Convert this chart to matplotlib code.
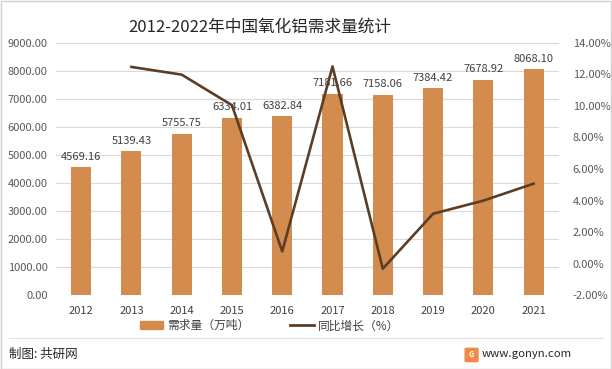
import matplotlib
matplotlib.use("Agg")
import matplotlib.pyplot as plt
from matplotlib.patches import Rectangle, FancyBboxPatch
from matplotlib.lines import Line2D
from matplotlib.ticker import FuncFormatter
import numpy as np

plt.rcParams['font.family'] = ['Noto Sans CJK SC', 'DejaVu Sans']

years = ["2012", "2013", "2014", "2015", "2016", "2017", "2018", "2019", "2020", "2021"]
demand = [4569.16, 5139.43, 5755.75, 6334.01, 6382.84, 7181.66, 7158.06, 7384.42, 7678.92, 8068.10]
growth_years = ["2013", "2014", "2015", "2016", "2017", "2018", "2019", "2020", "2021"]
growth = [12.48, 11.99, 10.05, 0.77, 12.51, -0.33, 3.16, 3.99, 5.07]

BAR_COLOR = "#D48B4E"
LINE_COLOR = "#5C3D26"
GRID_COLOR = "#D9D9D9"
TEXT_COLOR = "#595959"

fig = plt.figure(figsize=(6.12, 3.69), dpi=100)
ax = fig.add_axes([0.0915, 0.2005, 0.8215, 0.683])
ax2 = ax.twinx()

x = np.arange(len(years))
ax.bar(x, demand, width=0.4, color=BAR_COLOR, zorder=2)
for xi, v in zip(x, demand):
    ax.annotate(f"{v:.2f}", (xi, v), xytext=(0, 4), textcoords="offset points",
                ha="center", va="bottom", fontsize=8, color="#404040", zorder=5)

gx = [years.index(y) for y in growth_years]
ax2.plot(gx, growth, color=LINE_COLOR, linewidth=1.9, zorder=3)

ax.set_xlim(-0.5, len(years) - 0.5)
ax.set_ylim(0, 9000)
ax.set_yticks(np.arange(0, 9001, 1000))
ax.yaxis.set_major_formatter(FuncFormatter(lambda v, p: f"{v:.2f}"))
ax2.set_ylim(-2, 14)
ax2.set_yticks(np.arange(-2, 14.1, 2))
ax2.yaxis.set_major_formatter(FuncFormatter(lambda v, p: f"{v:.2f}%"))
ax.set_xticks(x)
ax.set_xticklabels(years)

ax.grid(axis="y", color=GRID_COLOR, linewidth=0.8, zorder=0)
ax.set_axisbelow(True)
for a in (ax, ax2):
    for s in a.spines.values():
        s.set_visible(False)
    a.tick_params(length=0, labelsize=8, colors=TEXT_COLOR)
ax.tick_params(axis="x", pad=8, colors="#404040")
ax.tick_params(axis="y", pad=6)
ax2.tick_params(axis="y", pad=10)
ax.set_zorder(ax2.get_zorder() - 1)
ax.patch.set_visible(False)
ax2.patch.set_visible(False)

fig.text(0.425, 0.926, "2012-2022年中国氧化铝需求量统计", ha="center", va="center",
         fontsize=12, color="#262626")

handles = [Rectangle((0, 0), 1, 1, color=BAR_COLOR),
           Line2D([0], [0], color=LINE_COLOR, linewidth=2.0)]
fig.legend(handles, ["需求量（万吨）", "同比增长（%）"], loc="center",
           bbox_to_anchor=(0.44, 0.117), ncol=2, frameon=False, fontsize=8.5,
           handlelength=2.0, handletextpad=0.3, columnspacing=3.5,
           labelcolor="#404040")

# footer
fig.add_artist(Line2D([0.015, 0.985], [0.084, 0.084], transform=fig.transFigure,
                      color="#E0E0E0", linewidth=0.8))
fig.text(0.014, 0.04, "制图: 共研网", ha="left", va="center", fontsize=9, color="#262626")
fig.text(0.787, 0.04, "www.gonyn.com", ha="left", va="center", fontsize=8.2, color="#262626")
fig.add_artist(FancyBboxPatch((0.762, 0.022), 0.017, 0.032, boxstyle="round,pad=0.002",
                              transform=fig.transFigure, color="#F08A4B"))
fig.text(0.7705, 0.038, "G", ha="center", va="center", fontsize=5.5, color="white",
         fontweight="bold")

# outer frame
fig.add_artist(Rectangle((0.001, 0.001), 0.998, 0.997, transform=fig.transFigure,
                         fill=False, edgecolor="#D0D0D0", linewidth=1.0))

fig.savefig("out.png", dpi=100)
